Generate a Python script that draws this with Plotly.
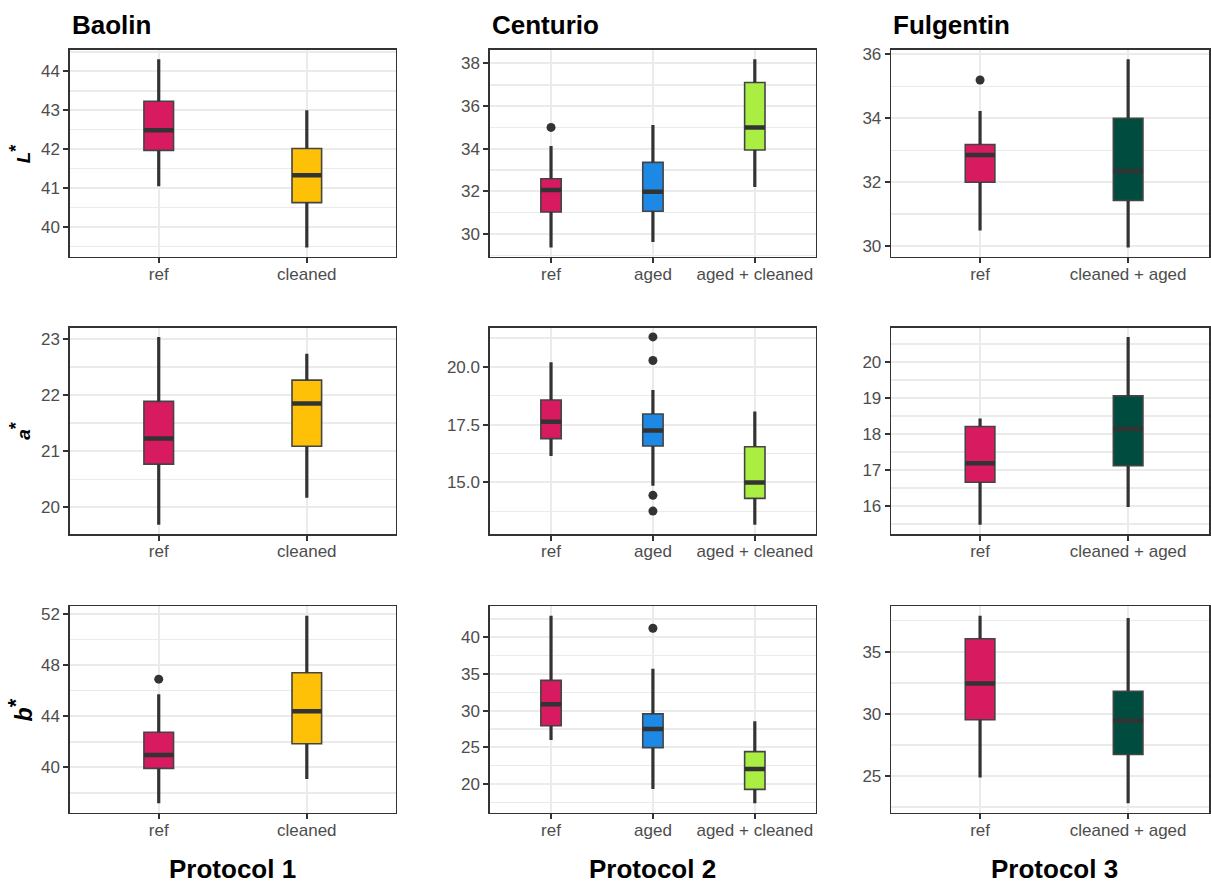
import plotly.graph_objects as go

# ---------------- data ----------------
baolin_cats = ["ref", "cleaned"]
centurio_cats = ["ref", "aged", "aged + cleaned"]
fulgentin_cats = ["ref", "cleaned + aged"]

baolin_colors = ["#D81B60", "#FFC107"]
centurio_colors = ["#D81B60", "#1E88E5", "#AAEE44"]
fulgentin_colors = ["#D81B60", "#004D40"]

# L* -------------------------------------------------------------
L_baolin_low = [41.05, 39.48]
L_baolin_q1 = [41.97, 40.63]
L_baolin_med = [42.49, 41.33]
L_baolin_q3 = [43.23, 42.02]
L_baolin_high = [44.31, 43.00]
L_baolin_out_cat = []
L_baolin_out_val = []

L_centurio_low = [29.37, 29.63, 32.20]
L_centurio_q1 = [31.03, 31.07, 33.94]
L_centurio_med = [32.06, 31.98, 35.00]
L_centurio_q3 = [32.59, 33.36, 37.11]
L_centurio_high = [34.13, 35.11, 38.20]
L_centurio_out_cat = ["ref"]
L_centurio_out_val = [35.00]

L_fulgentin_low = [30.49, 29.96]
L_fulgentin_q1 = [32.00, 31.43]
L_fulgentin_med = [32.85, 32.35]
L_fulgentin_q3 = [33.18, 34.00]
L_fulgentin_high = [34.23, 35.85]
L_fulgentin_out_cat = ["ref"]
L_fulgentin_out_val = [35.20]

# a* -------------------------------------------------------------
a_baolin_low = [19.69, 20.17]
a_baolin_q1 = [20.77, 21.09]
a_baolin_med = [21.23, 21.85]
a_baolin_q3 = [21.89, 22.27]
a_baolin_high = [23.04, 22.74]
a_baolin_out_cat = []
a_baolin_out_val = []

a_centurio_low = [16.14, 14.85, 13.17]
a_centurio_q1 = [16.89, 16.57, 14.31]
a_centurio_med = [17.62, 17.24, 15.00]
a_centurio_q3 = [18.56, 17.96, 16.54]
a_centurio_high = [20.20, 18.99, 18.07]
a_centurio_out_cat = ["aged", "aged", "aged", "aged"]
a_centurio_out_val = [21.29, 20.27, 14.44, 13.76]

a_fulgentin_low = [15.48, 15.97]
a_fulgentin_q1 = [16.66, 17.12]
a_fulgentin_med = [17.19, 18.14]
a_fulgentin_q3 = [18.21, 19.06]
a_fulgentin_high = [18.43, 20.70]
a_fulgentin_out_cat = []
a_fulgentin_out_val = []

# b* -------------------------------------------------------------
b_baolin_low = [37.19, 39.09]
b_baolin_q1 = [39.92, 41.84]
b_baolin_med = [40.96, 44.39]
b_baolin_q3 = [42.75, 47.40]
b_baolin_high = [45.71, 51.87]
b_baolin_out_cat = ["ref"]
b_baolin_out_val = [46.90]

b_centurio_low = [26.00, 19.32, 17.39]
b_centurio_q1 = [27.94, 24.96, 19.28]
b_centurio_med = [30.88, 27.49, 22.07]
b_centurio_q3 = [34.13, 29.56, 24.42]
b_centurio_high = [42.94, 35.71, 28.54]
b_centurio_out_cat = ["aged"]
b_centurio_out_val = [41.22]

b_fulgentin_low = [24.89, 22.81]
b_fulgentin_q1 = [29.53, 26.73]
b_fulgentin_med = [32.44, 29.45]
b_fulgentin_q3 = [36.04, 31.82]
b_fulgentin_high = [37.90, 37.72]
b_fulgentin_out_cat = []
b_fulgentin_out_val = []

# tick labels
L_baolin_ticks = [40, 41, 42, 43, 44]
L_centurio_ticks = [30, 32, 34, 36, 38]
L_fulgentin_ticks = [30, 32, 34, 36]
a_baolin_ticks = [20, 21, 22, 23]
a_centurio_ticks = [15.0, 17.5, 20.0]
a_fulgentin_ticks = [16, 17, 18, 19, 20]
b_baolin_ticks = [40, 44, 48, 52]
b_centurio_ticks = [20, 25, 30, 35, 40]
b_fulgentin_ticks = [25, 30, 35]

site_titles = ["Baolin", "Centurio", "Fulgentin"]
protocol_titles = ["Protocol 1", "Protocol 2", "Protocol 3"]
row_titles = ["L", "a", "b"]

# ---------------- layout geometry ----------------
W, H = 1211, 883
col_px = [(70.0, 396.3), (490.7, 817.3), (892.7, 1219.0)]
row_px = [(46.0, 254.0), (325.0, 532.5), (605.0, 812.3)]

INK = "#333333"
GRID = "#EBEBEB"
TXT = "#4D4D4D"
FONT = "Liberation Sans, Arial, Helvetica, sans-serif"

panels = [
    [
        (baolin_cats, baolin_colors, L_baolin_low, L_baolin_q1, L_baolin_med, L_baolin_q3, L_baolin_high, L_baolin_out_cat, L_baolin_out_val, L_baolin_ticks, "{:g}"),
        (centurio_cats, centurio_colors, L_centurio_low, L_centurio_q1, L_centurio_med, L_centurio_q3, L_centurio_high, L_centurio_out_cat, L_centurio_out_val, L_centurio_ticks, "{:g}"),
        (fulgentin_cats, fulgentin_colors, L_fulgentin_low, L_fulgentin_q1, L_fulgentin_med, L_fulgentin_q3, L_fulgentin_high, L_fulgentin_out_cat, L_fulgentin_out_val, L_fulgentin_ticks, "{:g}"),
    ],
    [
        (baolin_cats, baolin_colors, a_baolin_low, a_baolin_q1, a_baolin_med, a_baolin_q3, a_baolin_high, a_baolin_out_cat, a_baolin_out_val, a_baolin_ticks, "{:g}"),
        (centurio_cats, centurio_colors, a_centurio_low, a_centurio_q1, a_centurio_med, a_centurio_q3, a_centurio_high, a_centurio_out_cat, a_centurio_out_val, a_centurio_ticks, "{:.1f}"),
        (fulgentin_cats, fulgentin_colors, a_fulgentin_low, a_fulgentin_q1, a_fulgentin_med, a_fulgentin_q3, a_fulgentin_high, a_fulgentin_out_cat, a_fulgentin_out_val, a_fulgentin_ticks, "{:g}"),
    ],
    [
        (baolin_cats, baolin_colors, b_baolin_low, b_baolin_q1, b_baolin_med, b_baolin_q3, b_baolin_high, b_baolin_out_cat, b_baolin_out_val, b_baolin_ticks, "{:g}"),
        (centurio_cats, centurio_colors, b_centurio_low, b_centurio_q1, b_centurio_med, b_centurio_q3, b_centurio_high, b_centurio_out_cat, b_centurio_out_val, b_centurio_ticks, "{:g}"),
        (fulgentin_cats, fulgentin_colors, b_fulgentin_low, b_fulgentin_q1, b_fulgentin_med, b_fulgentin_q3, b_fulgentin_high, b_fulgentin_out_cat, b_fulgentin_out_val, b_fulgentin_ticks, "{:g}"),
    ],
]

fig = go.Figure()
layout = {}
annotations = []
BOXW = 0.2

for r in range(3):
    for c in range(3):
        idx = r * 3 + c + 1
        xa = "x" if idx == 1 else f"x{idx}"
        ya = "y" if idx == 1 else f"y{idx}"
        xkey = "xaxis" if idx == 1 else f"xaxis{idx}"
        ykey = "yaxis" if idx == 1 else f"yaxis{idx}"
        cats, colors, lo, q1, med, q3, hi, ocat, oval, ticks, fmt = panels[r][c]
        pos = list(range(1, len(cats) + 1))

        for i, cat in enumerate(cats):
            p = pos[i]
            # box body (fences collapsed onto the box; whiskers drawn below)
            fig.add_trace(go.Box(
                x=[p], q1=[q1[i]], median=[med[i]], q3=[q3[i]],
                lowerfence=[q1[i]], upperfence=[q3[i]],
                width=BOXW, fillcolor=colors[i],
                line=dict(color="#444444", width=1.6),
                boxpoints=False, xaxis=xa, yaxis=ya, showlegend=False,
                hoverinfo="skip",
            ))
            # whiskers
            fig.add_trace(go.Scatter(
                x=[p, p, None, p, p], y=[q3[i], hi[i], None, q1[i], lo[i]],
                mode="lines", line=dict(color=INK, width=3.2),
                xaxis=xa, yaxis=ya, showlegend=False, hoverinfo="skip",
            ))
            # median
            fig.add_trace(go.Scatter(
                x=[p - BOXW / 2, p + BOXW / 2], y=[med[i], med[i]],
                mode="lines", line=dict(color=INK, width=4.5),
                xaxis=xa, yaxis=ya, showlegend=False, hoverinfo="skip",
            ))
        if oval:
            fig.add_trace(go.Scatter(
                x=[pos[cats.index(k)] for k in ocat], y=oval, mode="markers",
                marker=dict(color=INK, size=9),
                xaxis=xa, yaxis=ya, showlegend=False, hoverinfo="skip",
            ))

        # scales (ggplot-like expansion)
        allv = lo + hi + oval
        vmin, vmax = min(allv), max(allv)
        pad = 0.05 * (vmax - vmin)
        yr = [vmin - pad, vmax + pad]
        x0, x1 = col_px[c]
        ppu = (x1 - x0) / (len(cats) + 0.2)
        xr_end = 0.4 + (min(x1, W) - x0) / ppu
        xr = [0.4, xr_end]
        dom_x = [x0 / W, min(x1, W) / W]
        dom_y = [1 - row_px[r][1] / H, 1 - row_px[r][0] / H]

        layout[xkey] = dict(
            domain=dom_x, range=xr, anchor=ya,
            tickmode="array", tickvals=pos, ticktext=cats,
            showgrid=True, gridcolor=GRID, gridwidth=2,
            zeroline=False, showline=True, mirror=True,
            linecolor=INK, linewidth=1.5,
            ticks="outside", ticklen=5, tickwidth=2, tickcolor=INK,
            ticklabelstandoff=-4,
            tickfont=dict(family=FONT, size=17, color=TXT),
        )
        minor_d = (ticks[1] - ticks[0]) / 2
        layout[ykey] = dict(
            domain=dom_y, range=yr, anchor=xa,
            tickmode="array", tickvals=ticks, ticktext=[fmt.format(t) for t in ticks],
            showgrid=True, gridcolor=GRID, gridwidth=2,
            minor=dict(showgrid=True, gridcolor=GRID, gridwidth=1.5,
                       tickmode="linear", tick0=ticks[0], dtick=minor_d, ticks=""),
            zeroline=False, showline=True, mirror=True,
            linecolor=INK, linewidth=1.5,
            ticks="outside", ticklen=5, tickwidth=2, tickcolor=INK,
            tickfont=dict(family=FONT, size=17, color=TXT),
        )

# titles
for c in range(3):
    x0, x1 = col_px[c]
    annotations.append(dict(
        text=f"<b>{site_titles[c]}</b>", x=x0 / W, y=1 - 21 / H,
        xref="paper", yref="paper", xanchor="left", yanchor="middle",
        showarrow=False, font=dict(family=FONT, size=26, color="black"),
    ))
    annotations.append(dict(
        text=f"<b>{protocol_titles[c]}</b>", x=(x0 + x1) / 2 / W, y=1 - 869 / H,
        xref="paper", yref="paper", xanchor="center", yanchor="middle",
        showarrow=False, font=dict(family=FONT, size=26, color="black"),
    ))
row_title_sizes = [19, 19, 23]
for r in range(3):
    y0, y1 = row_px[r]
    star = int(round(row_title_sizes[r] * 0.95))
    annotations.append(dict(
        text=f"<b><i>{row_titles[r]}</i><sup><span style='font-size:{star}px'>*</span></sup></b>",
        x=20 / W, y=1 - (y0 + y1) / 2 / H,
        xref="paper", yref="paper", xanchor="center", yanchor="middle",
        textangle=-90, showarrow=False,
        font=dict(family=FONT, size=row_title_sizes[r], color="black"),
    ))

fig.update_layout(
    width=W, height=H,
    margin=dict(l=0, r=0, t=0, b=0),
    paper_bgcolor="white", plot_bgcolor="white",
    boxmode="overlay",
    annotations=annotations,
    **layout,
)

fig.write_html(
    "out.html",
    config={"displayModeBar": False, "staticPlot": True},
    post_script="document.body.style.margin='0';document.body.style.overflow='hidden';",
)
